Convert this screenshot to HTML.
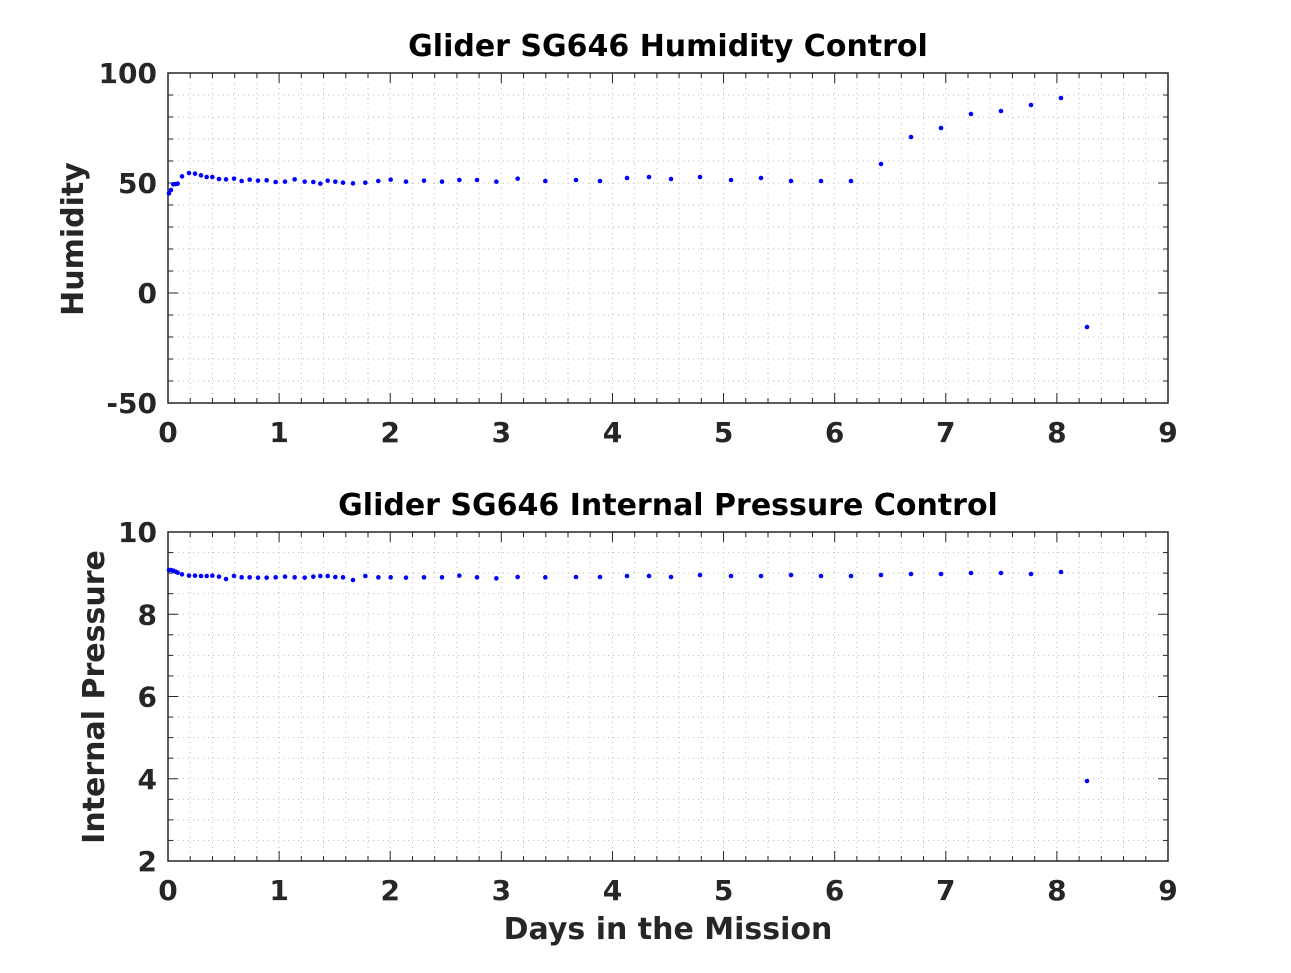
<!DOCTYPE html><html><head><style>body{margin:0;background:#fff}</style></head><body>
<svg id="s" width="1291" height="968" xmlns="http://www.w3.org/2000/svg" font-family="DejaVu Sans, Liberation Sans, sans-serif" font-weight="bold" fill="#262626">
<rect width="1291" height="968" fill="#fff"/>
<g id="g"></g>
<text x="668" y="56" text-anchor="middle" font-size="30" fill="#000">Glider SG646 Humidity Control</text>
<text x="668" y="515" text-anchor="middle" font-size="30" fill="#000">Glider SG646 Internal Pressure Control</text>
<text x="668" y="939" text-anchor="middle" font-size="30">Days in the Mission</text>
<text transform="translate(83,239) rotate(-90)" text-anchor="middle" font-size="30">Humidity</text>
<text transform="translate(104,697) rotate(-90)" text-anchor="middle" font-size="30">Internal Pressure</text>
</svg>
<script>
const g=document.getElementById('g');let h='';
function ax(top,bot,ylab,ny,nminor){
 const L=168,R=1168;
 for(let i=0;i<=45;i++){const x=L+i*1000/45;h+=`<line x1="${x}" y1="${top}" x2="${x}" y2="${bot}" stroke="#bbb" stroke-width="1" stroke-dasharray="1,4"/>`;
  if(i%5){h+=`<line x1="${x}" y1="${bot}" x2="${x}" y2="${bot-5}" stroke="#262626"/><line x1="${x}" y1="${top}" x2="${x}" y2="${top+5}" stroke="#262626"/>`}}
 const nm=ny*nminor;
 for(let j=0;j<=nm;j++){const y=top+j*(bot-top)/nm;h+=`<line x1="${L}" y1="${y}" x2="${R}" y2="${y}" stroke="#bbb" stroke-width="1" stroke-dasharray="1,4"/>`;
  const len=j%nminor?5:10;h+=`<line x1="${L}" y1="${y}" x2="${L+len}" y2="${y}" stroke="#262626"/><line x1="${R}" y1="${y}" x2="${R-len}" y2="${y}" stroke="#262626"/>`}
 for(let i=0;i<=9;i++){const x=L+i*1000/9;h+=`<line x1="${x}" y1="${bot}" x2="${x}" y2="${bot-10}" stroke="#262626"/><line x1="${x}" y1="${top}" x2="${x}" y2="${top+10}" stroke="#262626"/><text x="${x}" y="${bot+39}" text-anchor="middle" font-size="28">${i}</text>`}
 ylab.forEach((t,k)=>{const y=top+k*(bot-top)/ny;h+=`<text x="157" y="${y+10}" text-anchor="end" font-size="28">${t}</text>`});
 h+=`<rect x="${L}" y="${top}" width="1000" height="${bot-top}" fill="none" stroke="#262626" stroke-width="1.5"/>`;
}
ax(73,403,['100','50','0','-50'],3,5);
ax(532,861,['10','8','6','4','2'],4,4);
const zx=[27,33,40,47,53,66,87,105,123,140,157,177,198,222,245,269,294,320,347,375,404,434,460,481,503,526,549,579,616,655,692,738,792,846,898,951,1009,1073,1156];
const zt=[100,90,73,72,71,49,39,41,46,51,51,57,58,56,63,59,62,61,66,65,58,65,66,71,62,65,68,70,68,63,59,65,62,65,60,60,65,56,63];
const zb=[30,30,32,35,38,43,47,47,48,48,47,50,57,48,52,52,53,53,52,50,52,53,50,48,48,51,52,60,48,52,52,53,52,52,47,52,55,51,52];
const rt=[[576,180],[600,181],[627,178],[649,177],[671,179],[700,177],[731,180],[761,178],[791,181],[821,181],[851,181],[881,164],[911,137],[941,128],[971,114],[1001,111],[1031,105],[1061,98],[1087,327]];
const rb=[[576,577],[600,577],[627,576],[649,576],[671,577],[700,575],[731,576],[761,576],[791,575],[821,576],[851,576],[881,575],[911,574],[941,574],[971,573],[1001,573],[1031,574],[1061,572],[1087,781]];
const dot=(x,y)=>h+=`<circle cx="${x}" cy="${y}" r="2.3" fill="#0000ff"/>`;
zx.forEach((v,i)=>{dot(160+v/3,160+zt[i]/3);dot(160+v/3,560+zb[i]/3)});
rt.forEach(p=>dot(p[0],p[1]));rb.forEach(p=>dot(p[0],p[1]));
g.innerHTML=h;
</script>
</body></html>
